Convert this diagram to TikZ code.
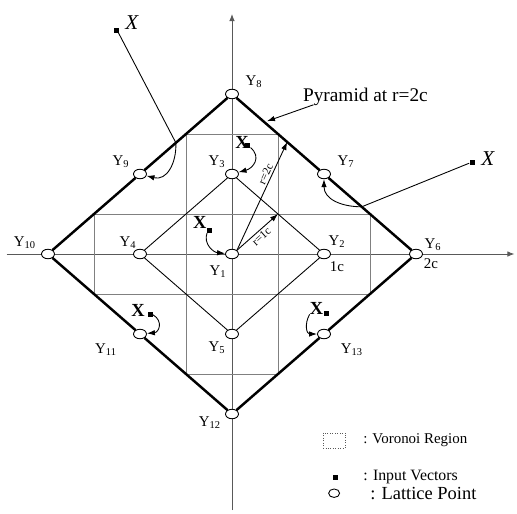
\documentclass[tikz,border=0pt]{standalone}
\usepackage{fontspec}
\setmainfont{Liberation Serif}
\usetikzlibrary{positioning, arrows.meta, calc, shapes.geometric}

\begin{document}
\begin{tikzpicture}[
        x=1.84cm, y=1.6cm,
        lattice/.style={ellipse, draw, fill=white, line width=0.5pt, inner sep=0pt,
                        minimum width=0.26cm, minimum height=0.19cm},
        inputvec/.style={rectangle, fill=black, inner sep=0pt, minimum size=0.1cm},
        xbig/.style={font=\fontsize{12}{14}\selectfont\itshape, inner sep=0pt},
        xsmall/.style={font=\fontsize{10.5}{12}\selectfont\bfseries, inner sep=0pt},
        ylab/.style={font=\fontsize{8.5}{10}\selectfont, inner sep=0pt},
        rlab/.style={font=\fontsize{6.5}{8}\selectfont, inner sep=1pt},
        pyr/.style={line width=1.4pt},
        cell/.style={gray, line width=0.5pt},
        axis/.style={gray!70!black, line width=0.5pt, -{Latex[length=1.4mm, width=1.1mm]}},
        pointer/.style={-{Latex[length=1.6mm, width=1.1mm]}, line width=0.5pt},
        legtext/.style={anchor=west, inner sep=0pt},
    ]
    \useasboundingbox (-2.5217,-3.2375) rectangle (3.0978,3.175);

    % Axes
    \coordinate (axl) at (-2.45,0);
    \coordinate (axr) at (3.07,0);
    \coordinate (axb) at (0,-3.2);
    \coordinate (axt) at (0,3.0);
    \draw[axis] (axl) -- (axr);
    \draw[axis] (axb) -- (axt);

    % Voronoi cells (cross of unit squares)
    \draw[cell] (-0.5,1.5) -- (0.5,1.5) (-0.5,-1.5) -- (0.5,-1.5)
                (-0.5,1.5) -- (-0.5,-1.5) (0.5,1.5) -- (0.5,-1.5);
    \draw[cell] (-1.5,0.5) -- (1.5,0.5) (-1.5,-0.5) -- (1.5,-0.5)
                (-1.5,0.5) -- (-1.5,-0.5) (1.5,0.5) -- (1.5,-0.5);

    % Lattice points
    \node[lattice] (y1)  at (0,0)   {};
    \node[lattice] (y2)  at (1,0)   {};
    \node[lattice] (y3)  at (0,1)   {};
    \node[lattice] (y4)  at (-1,0)  {};
    \node[lattice] (y5)  at (0,-1)  {};
    \node[lattice] (y6)  at (2,0)   {};
    \node[lattice] (y7)  at (1,1)   {};
    \node[lattice] (y8)  at (0,2)   {};
    \node[lattice] (y9)  at (-1,1)  {};
    \node[lattice] (y10) at (-2,0)  {};
    \node[lattice] (y11) at (-1,-1) {};
    \node[lattice] (y12) at (0,-2)  {};
    \node[lattice] (y13) at (1,-1)  {};

    % Inner diamond r=1c and pyramid r=2c
    \draw[line width=0.5pt] (y3) -- (y2) -- (y5) -- (y4) -- (y3);
    \draw[pyr] (y8) -- (y7) -- (y6) -- (y13) -- (y12) -- (y11) -- (y10) -- (y9) -- (y8);

    % Point labels
    \node[ylab] (l1)  at ($(y1)+(-0.28cm,-0.36cm)$)  {Y\textsubscript{1}};
    \node[ylab] (l2)  at ($(y2)+(0.26cm,0.24cm)$)    {Y\textsubscript{2}};
    \node[ylab] (l3)  at ($(y3)+(-0.30cm,0.24cm)$)   {Y\textsubscript{3}};
    \node[ylab] (l4)  at ($(y4)+(-0.24cm,0.22cm)$)   {Y\textsubscript{4}};
    \node[ylab] (l5)  at ($(y5)+(-0.30cm,-0.28cm)$)  {Y\textsubscript{5}};
    \node[ylab] (l6)  at ($(y6)+(0.34cm,0.18cm)$)    {Y\textsubscript{6}};
    \node[ylab] (l7)  at ($(y7)+(0.44cm,0.24cm)$)    {Y\textsubscript{7}};
    \node[ylab] (l8)  at ($(y8)+(0.44cm,0.24cm)$)    {Y\textsubscript{8}};
    \node[ylab] (l9)  at ($(y9)+(-0.38cm,0.24cm)$)   {Y\textsubscript{9}};
    \node[ylab] (l10) at ($(y10)+(-0.46cm,0.22cm)$)  {Y\textsubscript{10}};
    \node[ylab] (l11) at ($(y11)+(-0.68cm,-0.32cm)$) {Y\textsubscript{11}};
    \node[ylab] (l12) at ($(y12)+(-0.44cm,-0.18cm)$) {Y\textsubscript{12}};
    \node[ylab] (l13) at ($(y13)+(0.56cm,-0.32cm)$)  {Y\textsubscript{13}};
    \node[ylab] (c1)  at ($(y2)+(0.26cm,-0.26cm)$)   {1c};
    \node[ylab] (c2)  at ($(y6)+(0.30cm,-0.20cm)$)   {2c};

    % Radii
    \coordinate (r1) at (0.5,0.5);
    \coordinate (r2) at (0.6,1.4);
    \draw[pointer] (y1.north east) -- node[rlab, sloped, below, pos=0.5] {r=1c} (r1);
    \draw[pointer] (y1.north east) -- node[rlab, sloped, above, pos=0.68] {r=2c} (r2);

    % Pyramid caption
    \node[font=\fontsize{11}{13}\selectfont, inner sep=1pt] (pyrcap) at (1.45,1.97) {Pyramid at r=2c};
    \coordinate (pyrtip) at (0.38,1.66);
    \draw[pointer] ($(pyrcap.south west)+(0.25cm,0.05cm)$) -- (pyrtip);

    % Input vectors outside the pyramid
    \node[inputvec] (va) at (-1.25,2.8) {};
    \node[xbig] (xa) at (-1.09,2.89) {X};
    \coordinate (ea) at (-0.61,1.39);
    \draw[line width=0.5pt] (va) -- (ea);
    \draw[pointer] (ea) to[out=-88, in=-15, looseness=1.2] (y9);

    \node[inputvec] (vb) at (2.61,1.15) {};
    \node[xbig] (xb) at (2.78,1.19) {X};
    \coordinate (eb) at (1.41,0.59);
    \draw[line width=0.5pt] (vb) -- (eb);
    \draw[pointer] (eb) to[out=180, in=-90, looseness=1.1] (y7);

    % Input vectors inside the pyramid
    \node[inputvec] (vc) at (0.17,1.36) {};
    \node[xsmall] (xc) at (0.11,1.40) {X};
    \draw[pointer] (vc) to[out=-40, in=15, looseness=1.4] (y3);

    \node[inputvec] (vd) at (-0.24,0.30) {};
    \node[xsmall] (xd) at (-0.35,0.39) {X};
    \draw[pointer] (vd.south west) to[out=-110, in=175, looseness=1.1] (y1);

    \node[inputvec] (ve) at (-0.89,-0.76) {};
    \node[xsmall] (xe) at (-1.02,-0.70) {X};
    \draw[pointer] (ve.east) to[out=-30, in=5, looseness=1.6] (y11);

    \node[inputvec] (vf) at (1.03,-0.74) {};
    \node[xsmall] (xf) at (0.92,-0.675) {X};
    \draw[pointer] (xf.south west) to[out=-120, in=180, looseness=1.3] (y13);

    % Legend
    \node[draw=gray!70!black, densely dotted, minimum width=0.44cm, minimum height=0.3cm,
          inner sep=0pt] (legcell) at (1.11,-2.33) {};
    \node[legtext, font=\fontsize{8.5}{10}\selectfont] (legcelltxt) at (1.424,-2.33) {: Voronoi Region};
    \node[inputvec] (legvec) at (1.12,-2.79) {};
    \node[legtext, font=\fontsize{9}{11}\selectfont] (legvectxt) at (1.424,-2.79) {: Input Vectors};
    \node[lattice, minimum width=0.22cm, minimum height=0.17cm] (legpt) at (1.11,-2.99) {};
    \node[legtext, font=\fontsize{10.5}{12}\selectfont] (legpttxt) at (1.50,-3.0) {: Lattice Point};
\end{tikzpicture}
\end{document}
